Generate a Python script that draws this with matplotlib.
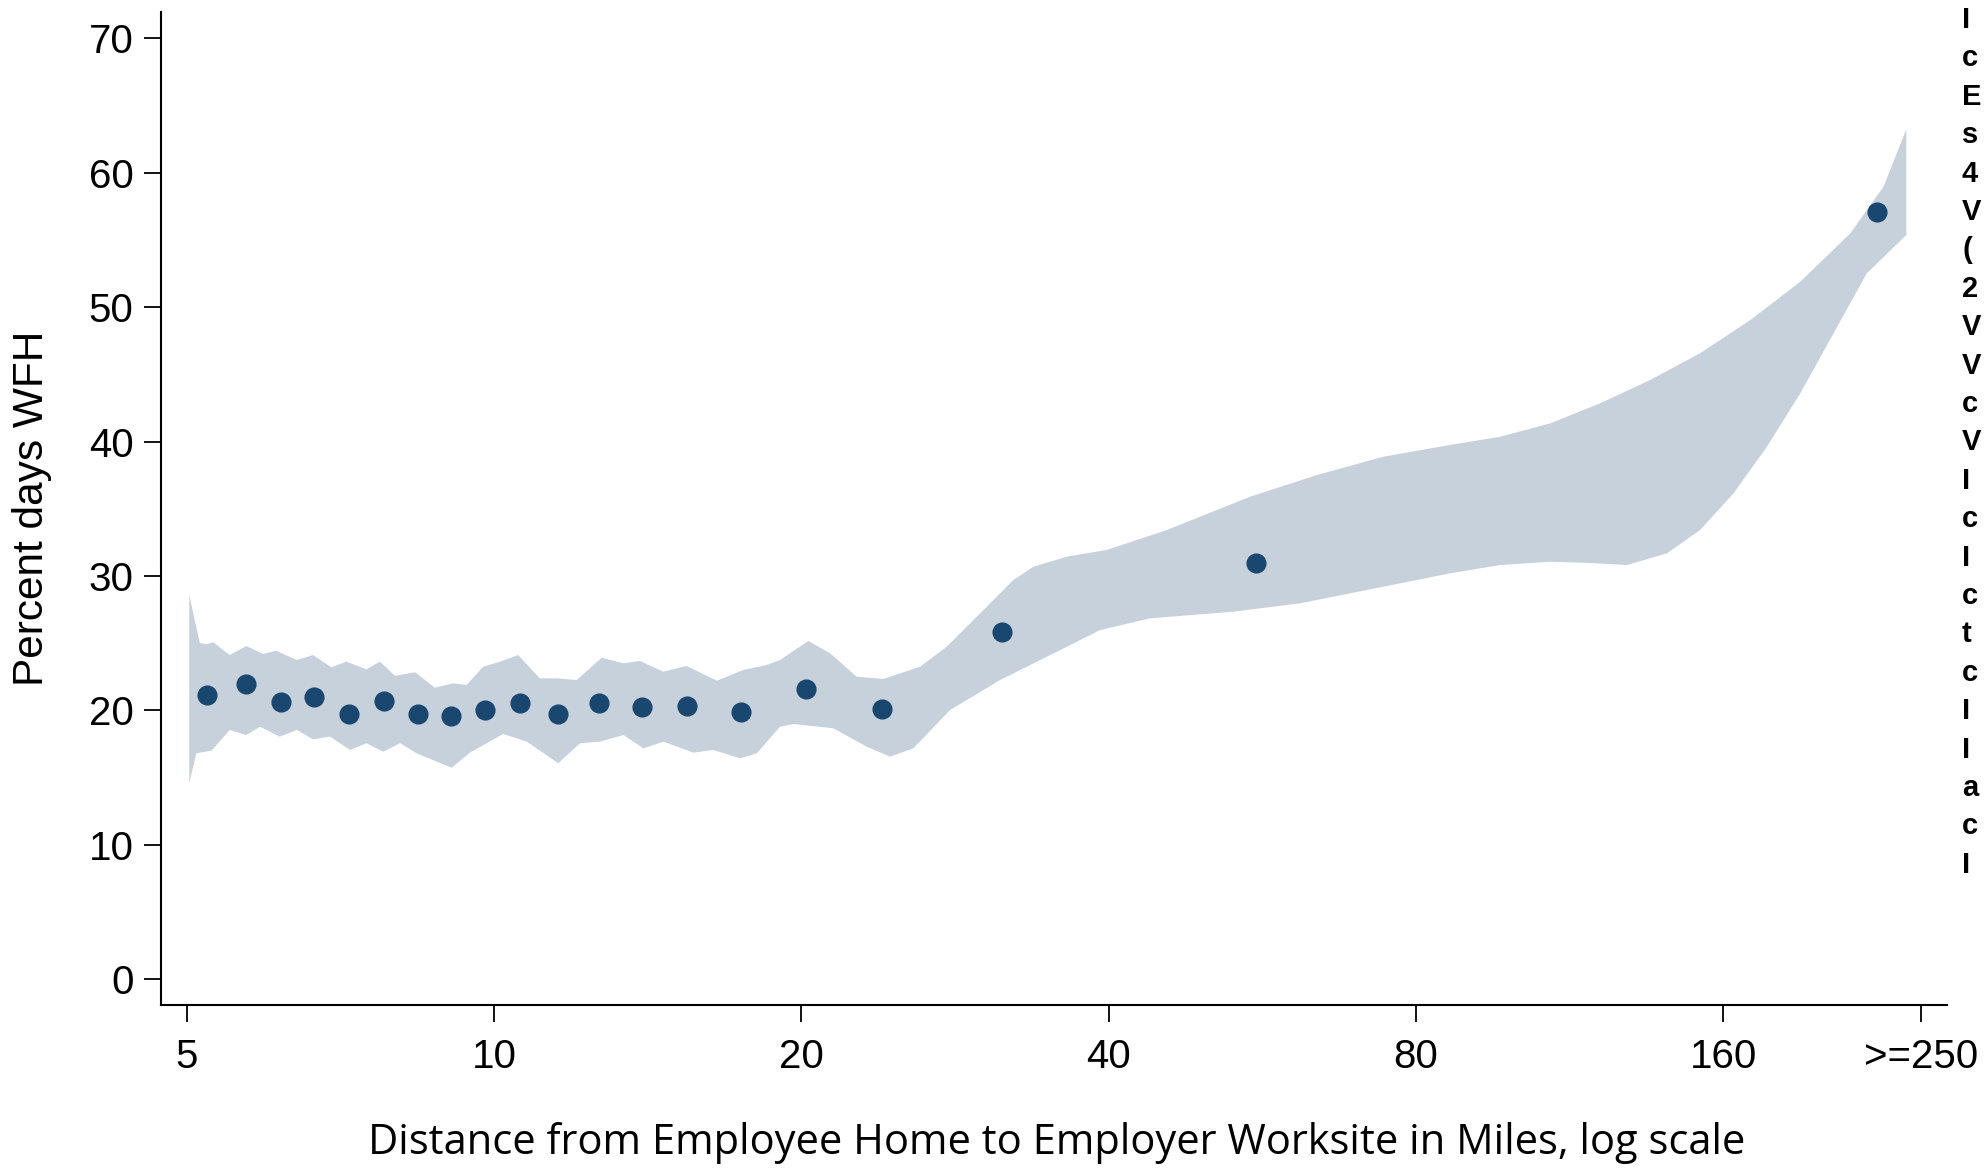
import numpy as np
import matplotlib.pyplot as plt

plt.rcParams["font.family"] = ["Liberation Sans", "DejaVu Sans"]

# binned scatter: distance (miles) vs percent days WFH
dist = [5.24, 5.72, 6.18, 6.66, 7.21, 7.80, 8.43, 9.08, 9.81, 10.60,
        11.55, 12.67, 13.96, 15.47, 17.47, 20.21, 24.01, 31.45, 55.74, 226.4]
wfh = [21.15, 21.94, 20.65, 21.02, 19.71, 20.70, 19.76, 19.56, 20.06, 20.53,
       19.74, 20.55, 20.28, 20.35, 19.86, 21.60, 20.08, 25.81, 30.97, 57.10]

# confidence band, upper edge
up_x = [5.03, 5.15, 5.23, 5.31, 5.51, 5.72, 5.94, 6.12, 6.41, 6.65, 6.93, 7.17,
        7.50, 7.73, 8.00, 8.37, 8.75, 9.12, 9.40, 9.76, 10.14, 10.56, 11.09,
        11.52, 12.05, 12.75, 13.39, 13.90, 14.65, 15.44, 16.53, 17.55, 18.50,
        19.06, 20.32, 21.34, 22.66, 24.07, 26.14, 27.76, 30.16, 32.26, 33.75,
        36.40, 39.83, 45.60, 55.03, 63.96, 74.35, 86.39, 96.73, 108.3, 121.2,
        135.6, 151.8, 170.0, 190.3, 213.0, 229.6, 241.7]
up_y = [28.59, 25.02, 24.92, 25.07, 24.12, 24.79, 24.20, 24.44, 23.75, 24.12,
        23.21, 23.63, 23.06, 23.63, 22.58, 22.84, 21.69, 22.02, 21.89, 23.25,
        23.63, 24.12, 22.39, 22.39, 22.26, 23.92, 23.51, 23.68, 22.88, 23.31,
        22.21, 23.01, 23.38, 23.75, 25.17, 24.25, 22.51, 22.34, 23.25, 24.74,
        27.47, 29.70, 30.69, 31.44, 31.94, 33.42, 35.90, 37.51, 38.88, 39.75,
        40.36, 41.36, 42.85, 44.58, 46.57, 49.04, 51.89, 55.49, 58.96, 63.23]

# confidence band, lower edge
lo_x = [5.03, 5.11, 5.29, 5.51, 5.72, 5.90, 6.17, 6.41, 6.65, 6.91, 7.23, 7.50,
        7.79, 8.09, 8.40, 9.09, 9.47, 10.21, 10.77, 11.56, 12.14, 12.70, 13.39,
        14.01, 14.65, 15.68, 16.40, 17.42, 18.09, 19.06, 19.64, 21.50, 23.18,
        24.43, 25.75, 27.97, 31.31, 36.40, 39.23, 43.91, 53.00, 61.60, 74.35,
        86.39, 96.73, 108.3, 116.7, 128.7, 140.9, 151.8, 163.7, 176.5, 190.3,
        205.1, 221.1, 241.7]
lo_y = [14.58, 16.81, 17.01, 18.55, 18.17, 18.79, 18.05, 18.55, 17.85, 18.05,
        17.06, 17.56, 16.93, 17.56, 16.81, 15.74, 16.86, 18.25, 17.68, 16.07,
        17.56, 17.68, 18.17, 17.18, 17.68, 16.86, 17.06, 16.44, 16.81, 18.79,
        18.99, 18.67, 17.30, 16.56, 17.18, 20.03, 22.26, 24.74, 25.98, 26.85,
        27.35, 27.97, 29.21, 30.20, 30.82, 31.06, 30.99, 30.82, 31.69, 33.42,
        36.15, 39.62, 43.59, 48.05, 52.52, 55.37]

xticks = [5, 10, 20, 40, 80, 160, 250]
xticklabels = ["5", "10", "20", "40", "80", "160", ">=250"]
yticks = list(range(0, 71, 10))

# first letters of a side note at the page edge
note_letters = ["I", "c", "E", "s", "4", "V", "(", "2", "V", "V", "c", "V",
                "I", "c", "I", "c", "t", "c", "I", "I", "a", "c", "I"]

navy = "#1a476f"
band = "#c7d1dc"

fig = plt.figure(figsize=(19.84, 11.68), dpi=100)
ax = fig.add_axes([0.081, 0.1396, 0.9004, 0.85])

ax.fill(np.r_[up_x, lo_x[::-1]], np.r_[up_y, lo_y[::-1]],
        color=band, lw=0, zorder=1)
ax.plot(dist, wfh, "o", color=navy, ms=13.5, mec=navy, zorder=3)

ax.set_xscale("log", base=2)
ax.set_xlim(4.716, 265)
ax.set_ylim(-1.91, 71.95)
ax.set_xticks(xticks)
ax.set_xticklabels(xticklabels)
ax.minorticks_off()
ax.set_yticks(yticks)

for s in ["top", "right"]:
    ax.spines[s].set_visible(False)
for s in ["left", "bottom"]:
    ax.spines[s].set_linewidth(1.5)
ax.tick_params(axis="both", length=12.5, width=1.3, labelsize=29)
ax.tick_params(axis="x", pad=11)
ax.tick_params(axis="y", pad=7)

ax.set_ylabel("Percent days WFH", fontsize=30.5)
ax.yaxis.set_label_coords(-0.072, 0.5)
ax.yaxis.label.set_va("center")
ax.set_xlabel("Distance from Employee Home to Employer Worksite in Miles, log scale",
              fontsize=30, family=["Open Sans", "DejaVu Sans"])
ax.xaxis.set_label_coords(0.5015, -0.139)
ax.xaxis.label.set_va("center")

for i, ch in enumerate(note_letters):
    fig.text(1962 / 1984, 1 - (20 + i * 38.4) / 1168, ch, fontsize=21,
             fontweight="bold", va="center", ha="left")

fig.savefig("out.png", dpi=100)
